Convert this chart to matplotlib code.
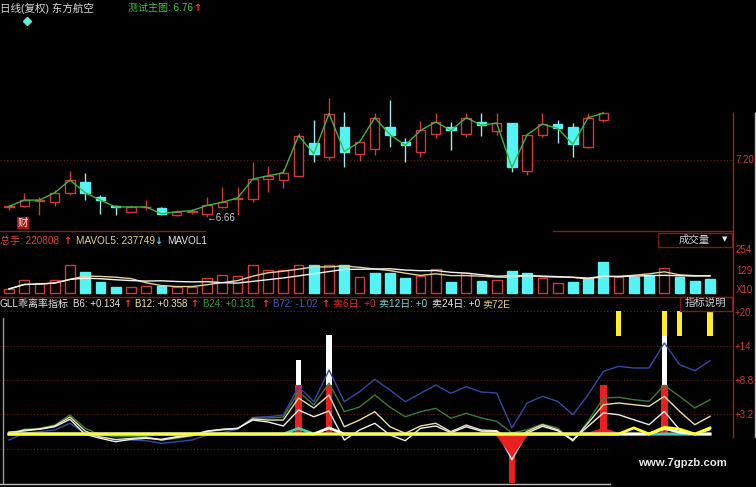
import numpy as np
import pandas as pd
import matplotlib
matplotlib.use('Agg')
import matplotlib.pyplot as plt
from matplotlib.patches import Rectangle
from matplotlib.lines import Line2D

plt.rcParams['font.family'] = ['Liberation Sans', 'Noto Sans CJK SC', 'DejaVu Sans']

# ---------------- data ----------------
# candles (40 trading days shown in the price panel)
opens = [6.75, 6.76, 6.815, 6.80, 6.89, 6.99, 6.85, 6.765, 6.71, 6.75,
         6.745, 6.68, 6.71, 6.69, 6.755, 6.835, 6.83, 7.02, 7.01, 7.05,
         7.36, 7.23, 7.51, 7.26, 7.30, 7.51, 7.37, 7.28, 7.45, 7.51,
         7.45, 7.56, 7.475, 7.55, 7.10, 7.44, 7.54, 7.51, 7.32, 7.58]
closes = [6.76, 6.82, 6.82, 6.89, 7.01, 6.89, 6.82, 6.755, 6.755, 6.755,
          6.69, 6.71, 6.72, 6.77, 6.80, 6.84, 7.02, 7.05, 7.08, 7.43,
          7.26, 7.64, 7.28, 7.37, 7.60, 7.44, 7.34, 7.48, 7.56, 7.48,
          7.60, 7.53, 7.55, 7.13, 7.44, 7.54, 7.50, 7.35, 7.60, 7.645]
highs = [6.77, 6.89, 6.85, 6.92, 7.10, 7.08, 6.87, 6.77, 6.77, 6.82,
         6.75, 6.73, 6.74, 6.85, 6.94, 6.94, 7.18, 7.14, 7.115, 7.46,
         7.58, 7.79, 7.65, 7.37, 7.645, 7.77, 7.41, 7.57, 7.645, 7.56,
         7.645, 7.645, 7.645, 7.55, 7.44, 7.645, 7.58, 7.55, 7.645, 7.645]
lows = [6.73, 6.75, 6.68, 6.76, 6.87, 6.82, 6.69, 6.68, 6.71, 6.73,
        6.68, 6.67, 6.69, 6.66, 6.745, 6.68, 6.80, 6.90, 6.93, 7.04,
        7.18, 7.20, 7.13, 7.19, 7.25, 7.32, 7.18, 7.23, 7.41, 7.29,
        7.42, 7.43, 7.44, 7.09, 7.06, 7.42, 7.36, 7.23, 7.31, 7.56]

# volume (47 days, axis units as labelled 254 / 129)
volumes = [27, 80, 62, 80, 170, 128, 68, 39, 39, 45, 45, 39, 39, 92, 110, 104,
           170, 140, 140, 170, 170, 170, 170, 98, 122, 122, 92, 104, 146, 68,
           122, 74, 80, 134, 122, 92, 62, 68, 92, 187, 98, 98, 110, 152, 98, 74, 86]
vol_dir = "uuuuuddduuduuuuuuuuudududdduudududduuddduddudddu"[:47]

# GLL bias indicator (47 days)
b6 = [-0.08, 0.65, 0.77, 1.19, 2.40, -0.05, -0.70, -1.26, -0.86, -0.70, -0.86, -0.44,
      -0.16, 0.49, 0.77, 0.93, 2.28, 1.96, 1.31, 3.92, 2.82, 3.75, -0.98, 0.65, 1.75,
      -0.16, -1.09, 0.93, 1.31, 0.21, 1.19, 0.46, 0.44, -4.19, 0.16, 1.26, 0.54, -0.93,
      1.26, 3.43, 3.15, 2.33, 1.52, 3.70, 0.70, -0.11, 0.70]
b12 = [0.33, 0.49, 0.82, 1.31, 2.77, 0.49, -0.49, -0.90, -0.73, -0.57, -0.98, -0.57,
       -0.24, 0.44, 0.73, 0.90, 2.45, 2.28, 2.28, 5.87, 4.24, 6.36, 1.19, 2.28, 3.64,
       1.19, 0.11, 1.31, 1.75, 0.38, 1.47, 0.65, 0.54, -1.19, 0.44, 1.52, 0.70, -1.09,
       1.79, 4.78, 5.06, 4.78, 4.52, 6.15, 3.70, 1.52, 2.89]
b24 = [0.00, 0.77, 0.93, 1.47, 3.10, 0.93, -0.16, -0.44, -0.44, -0.44, -0.98, -0.70,
       -0.33, 0.38, 0.65, 0.82, 2.61, 2.61, 2.77, 6.90, 4.73, 8.32, 3.64, 4.40, 6.36,
       4.36, 2.82, 3.64, 4.19, 2.56, 3.38, 2.61, 2.07, 0.16, 0.70, 1.63, 0.98, -1.19,
       2.07, 5.87, 5.99, 5.60, 5.33, 7.94, 6.15, 4.24, 5.60]
b72 = [-0.98, 0.11, 0.38, 0.65, 1.75, 0.11, -0.44, -0.98, -0.98, -1.09, -1.52, -1.26,
       -0.98, -0.16, 0.21, 0.77, 2.72, 2.82, 3.10, 7.72, 5.27, 10.44, 5.27, 6.90, 8.92,
       7.18, 5.27, 6.64, 7.99, 6.64, 7.72, 6.85, 6.69, 0.98, 5.06, 6.15, 5.33, 3.15,
       6.41, 10.23, 11.04, 10.77, 10.77, 14.85, 11.31, 10.33, 11.96]
sell6 = [0]*33 + [-3.4] + [0]*5 + [0.8] + [0]*7
sell12 = [0]*19 + [0.93] + [0]*27
sell24 = [0]*21 + [1.0] + [0]*21 + [0.9, 0.3, 0, 0]
sell72 = [0]*41 + [1.0, 0, 1.1, 0.8, 0, 1.0]
stick_red = [0]*19 + [8, 0, 8] + [0]*11 + [-8.5] + [0]*5 + [8, 0, 0, 0, 8, 0, 0, 0]
stick_white_top = [0]*19 + [12.1, 0, 16.2] + [0]*21 + [16.0, 0, 0, 0]
stick_yellow_top = [0]*40 + [20, 0, 0, 20, 20, 0, 20]

# ---------------- layout helpers ----------------
W, H = 756, 487
fig = plt.figure(figsize=(W/100, H/100), dpi=100, facecolor='black')

def rect(x0, y0, x1, y1):
    return [x0/W, 1 - y1/H, (x1 - x0)/W, (y1 - y0)/H]

def fx(x):
    return x / W

def fy(y):
    return 1 - y / H

def ftext(x, y, s, color, size=7.2, **kw):
    fig.text(fx(x), fy(y), s, color=color, fontsize=size, va='center', ha='left', **kw)

def arrow(x, y, s, color):
    ftext(x, y, s, color, size=7, family='DejaVu Sans', fontweight='bold')

def fline(x0, y0, x1, y1, color, lw=1.0, ls='-'):
    fig.add_artist(Line2D([fx(x0), fx(x1)], [fy(y0), fy(y1)], color=color, lw=lw, ls=ls))

XLIM = (0.409, 48.507)
RED = '#d23a3a'
CYAN = '#54f4f4'
GRID = '#6a1c1c'

# ---------------- price panel ----------------
axp = fig.add_axes(rect(0, 0, 733, 230))
axp.set_axis_off()
axp.set_xlim(*XLIM)
axp.set_ylim(6.5368, 8.7158)
n = len(opens)
xi = np.arange(1, n + 1)
o = np.array(opens); c = np.array(closes); hi = np.array(highs); lo = np.array(lows)
up = c >= o
top = np.maximum(o, c); bot = np.minimum(o, c)
hgt = np.maximum(top - bot, 0.002)
axp.axhline(7.20, color=GRID, lw=0.8, ls=(0, (1, 2)))
for k in range(n):
    wcol = RED if up[k] else '#9ee8e8'
    axp.vlines(xi[k], top[k], hi[k], color=wcol, lw=1)
    axp.vlines(xi[k], lo[k], bot[k], color=wcol, lw=1)
    if up[k]:
        axp.bar(xi[k], hgt[k], bottom=bot[k], width=0.62, facecolor='black',
                edgecolor=RED, lw=1, zorder=3)
    else:
        axp.bar(xi[k], hgt[k], bottom=bot[k], width=0.62, facecolor=CYAN,
                edgecolor=CYAN, lw=1, zorder=3)
axp.plot(xi, c, color='#3cb83c', lw=1, zorder=4)

# ---------------- volume panel ----------------
axv = fig.add_axes(rect(0, 231, 733, 296))
axv.set_axis_off()
axv.set_xlim(*XLIM)
axv.set_ylim(-14.9, 371.9)
xv = np.arange(1, len(volumes) + 1)
for k, v in enumerate(volumes):
    if vol_dir[k] == 'u':
        axv.bar(xv[k], v, width=0.64, facecolor='black', edgecolor=RED, lw=1)
    else:
        axv.bar(xv[k], v, width=0.64, facecolor=CYAN, edgecolor=CYAN, lw=1)
vs = pd.Series(volumes, dtype=float)
axv.plot(xv, vs.rolling(5, min_periods=1).mean(), color='#e0d49a', lw=1)
axv.plot(xv, vs.rolling(10, min_periods=1).mean(), color='#f2f2f2', lw=1)

# ---------------- indicator panel ----------------
axi = fig.add_axes(rect(0, 297, 733, 483))
axi.set_axis_off()
axi.set_xlim(*XLIM)
axi.set_ylim(-7.99, 22.35)
xb = np.arange(1, len(b6) + 1)
for g in [-2.4, 3.2, 8.8, 14.4, 20.0]:
    axi.axhline(g, color=GRID, lw=0.8, ls=(0, (1, 2)))
sr = np.array(stick_red, dtype=float)
sw = np.array(stick_white_top, dtype=float)
sy = np.array(stick_yellow_top, dtype=float)
m = sr != 0
axi.bar(xb[m], sr[m], width=0.42, color='#e82020', zorder=2)
m = sw != 0
axi.bar(xb[m], sw[m] - 8, bottom=8, width=0.34, color='white', zorder=2)
m = sy != 0
axi.bar(xb[m], sy[m] - 16, bottom=16, width=0.34, color='#ffee22', zorder=2)
axi.plot(xb, b72, color='#3a46a8', lw=1, zorder=3)
axi.plot(xb, b24, color='#3c7a3c', lw=1, zorder=3)
axi.plot(xb, b12, color='#e8e0a0', lw=1, zorder=3)
axi.plot(xb, b6, color='#f0f0f0', lw=1, zorder=3)
axi.plot(xb, np.zeros(len(xb)), color='#f2f07a', lw=1.7, zorder=4)
s6 = np.array(sell6, dtype=float)
axi.fill_between(xb, 0, s6, color='#e82020', lw=0, zorder=4)
axi.plot(xb, s6, color='#e82020', lw=1.8, zorder=4)
axi.plot(xb, sell12, color='#40d0b8', lw=2, zorder=5)
axi.plot(xb, sell24, color='white', lw=2, zorder=5)
axi.plot(xb, sell72, color='#ffff30', lw=2, zorder=5)

# ---------------- frame lines ----------------
fline(0, 231, 205, 231, '#801c1c')
fline(553, 231, 733, 231, '#801c1c')
fline(0, 297, 733, 297, '#801c1c')
fline(732.5, 113, 732.5, 437, '#a02222')
fline(755, 113, 755, 437, '#bdbdbd')
fline(3, 318, 3, 483, '#9a9a9a')
fline(0, 483.5, 610, 483.5, '#bdbdbd')

# ---------------- texts ----------------
ftext(0, 8, "日线(复权) 东方航空", '#d8d8d8', size=7.6)
ftext(128, 8, "测试主图: 6.76", '#3ec83e')
arrow(193, 8, "↑", '#ff3030')
fig.add_artist(Line2D([fx(27)], [fy(21)], marker='D', ms=4, color='#60f0d8', lw=0))
ftext(206, 218, "←6.66", '#c8c8c8', size=7)
ftext(18, 223, "财", '#ffe0e0', size=7.5,
      bbox=dict(facecolor='#a01818', edgecolor='none', pad=0.5))
ftext(735, 160, "7.20", RED, size=7)

ftext(0, 241, "总手: 220808", '#e04040')
arrow(63, 241, "↑", '#ff3030')
ftext(76, 241, "MAVOL5: 237749", '#e6d28c')
arrow(154, 241, "↓", '#40e0f0')
ftext(167, 241, "MAVOL1", '#e8e8e8')
fig.add_artist(Rectangle((fx(658), fy(247)), (732 - 658)/W, 14/H,
                         facecolor='black', edgecolor='#7a1c1c', lw=1))
ftext(679, 240, "成交量", '#d0d0d0', size=7.5)
ftext(722, 239, "▼", '#e8e8e8', size=5, family='DejaVu Sans')
ftext(736, 250, "254", RED, size=7)
ftext(736, 271, "129", RED, size=7)
ftext(736, 290, "X10", RED, size=7)

ftext(0, 304, "GLL乖离率指标", '#e8e8e8')
ftext(73, 304, "B6: +0.134", '#e8e8e8', size=7)
arrow(123, 304, "↑", '#ff3030')
ftext(135, 304, "B12: +0.358", '#f0e890', size=7)
arrow(190, 304, "↑", '#ff3030')
ftext(203, 304, "B24: +0.131", '#3c9c3c', size=7)
arrow(261, 304, "↑", '#ff3030')
ftext(273, 304, "B72: -1.02", '#4a58c8', size=7)
arrow(321, 304, "↑", '#ff3030')
ftext(333, 304, "卖6日: +0", '#e02828')
ftext(379, 304, "卖12日: +0", '#78d0d0')
ftext(432, 304, "卖24日: +0", '#e8e8e8')
ftext(482, 304, "卖72E", '#e0d070')
fig.add_artist(Rectangle((fx(680), fy(311)), (732 - 680)/W, 14/H,
                         facecolor='black', edgecolor='#7a1c1c', lw=1))
ftext(685, 303, "指标说明", '#d0d0d0', size=7.5)
ftext(735, 313, "+20.", RED, size=7)
ftext(735, 347, "+14.", RED, size=7)
ftext(735, 381, "+8.8", RED, size=7)
ftext(735, 415, "+3.2", RED, size=7)

fig.add_artist(Rectangle((fx(610), fy(487)), 146/W, 50/H, facecolor='black',
                         edgecolor='none'))
ftext(638, 463, "www.7gpzb.com", '#e8e8e8', size=8.2, fontweight='bold')

fig.savefig('out.png', dpi=100, facecolor='black')
